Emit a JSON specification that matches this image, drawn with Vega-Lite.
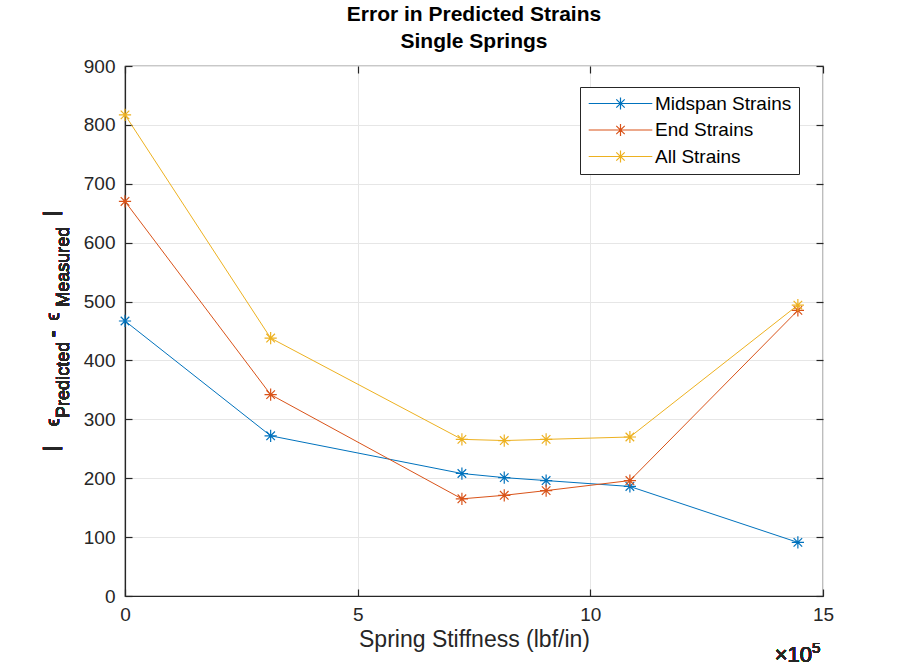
{
  "$schema": "https://vega.github.io/schema/vega-lite/v6.json",
  "width": 698,
  "height": 530,
  "autosize": {"type": "none"},
  "padding": {"left": 125, "top": 66, "right": 76, "bottom": 71},
  "background": "white",
  "title": {
    "text": ["Error in Predicted Strains", "Single Springs"],
    "font": "Liberation Sans",
    "fontSize": 21,
    "fontWeight": "bold",
    "color": "#000000",
    "anchor": "middle",
    "lineHeight": 27,
    "offset": 5
  },
  "config": {
    "view": {"stroke": "#262626", "strokeWidth": 1.2},
    "axis": {
      "labelFont": "Liberation Sans",
      "labelFontSize": 19,
      "labelColor": "#262626",
      "labelFlush": false,
      "titleFont": "Liberation Sans",
      "titleFontSize": 23,
      "titleFontWeight": "normal",
      "titleColor": "#262626",
      "domainColor": "#262626",
      "domainWidth": 1.2,
      "tickColor": "#262626",
      "tickWidth": 1.2,
      "tickSize": -7,
      "gridColor": "#e6e6e6",
      "gridWidth": 1
    },
    "text": {"font": "Liberation Sans", "fontWeight": "normal", "color": "#262626"}
  },
  "data": {
    "values": [
      {"stiffness": 0, "error": 467, "series": "Midspan Strains"},
      {"stiffness": 3.13, "error": 272, "series": "Midspan Strains"},
      {"stiffness": 7.24, "error": 208, "series": "Midspan Strains"},
      {"stiffness": 8.15, "error": 201, "series": "Midspan Strains"},
      {"stiffness": 9.05, "error": 196, "series": "Midspan Strains"},
      {"stiffness": 10.85, "error": 186, "series": "Midspan Strains"},
      {"stiffness": 14.46, "error": 91, "series": "Midspan Strains"},
      {"stiffness": 0, "error": 670, "series": "End Strains"},
      {"stiffness": 3.13, "error": 342, "series": "End Strains"},
      {"stiffness": 7.24, "error": 165, "series": "End Strains"},
      {"stiffness": 8.15, "error": 171, "series": "End Strains"},
      {"stiffness": 9.05, "error": 179, "series": "End Strains"},
      {"stiffness": 10.85, "error": 196, "series": "End Strains"},
      {"stiffness": 14.46, "error": 485, "series": "End Strains"},
      {"stiffness": 0, "error": 817, "series": "All Strains"},
      {"stiffness": 3.13, "error": 438, "series": "All Strains"},
      {"stiffness": 7.24, "error": 266, "series": "All Strains"},
      {"stiffness": 8.15, "error": 264, "series": "All Strains"},
      {"stiffness": 9.05, "error": 266, "series": "All Strains"},
      {"stiffness": 10.85, "error": 270, "series": "All Strains"},
      {"stiffness": 14.46, "error": 494, "series": "All Strains"}
    ]
  },
  "layer": [
    {
      "mark": {
        "type": "line",
        "strokeWidth": 1,
        "point": {
          "shape": "M-1,0L1,0M0,-1L0,1M-0.7,-0.7L0.7,0.7M-0.7,0.7L0.7,-0.7",
          "filled": false,
          "size": 150,
          "strokeWidth": 1.2
        }
      },
      "encoding": {
        "x": {
          "field": "stiffness",
          "type": "quantitative",
          "scale": {"domain": [0, 15], "nice": false},
          "axis": {
            "values": [0, 5, 10, 15],
            "grid": true,
            "labelPadding": 16,
            "title": "Spring Stiffness (lbf/in)",
            "titlePadding": 4
          }
        },
        "y": {
          "field": "error",
          "type": "quantitative",
          "scale": {"domain": [0, 900], "nice": false},
          "axis": {
            "values": [0, 100, 200, 300, 400, 500, 600, 700, 800, 900],
            "grid": true,
            "labelPadding": 17,
            "title": null
          }
        },
        "color": {
          "field": "series",
          "type": "nominal",
          "sort": ["Midspan Strains", "End Strains", "All Strains"],
          "scale": {
            "domain": ["Midspan Strains", "End Strains", "All Strains"],
            "range": ["#0072BD", "#D95319", "#EDB120"]
          },
          "legend": {
            "title": null,
            "orient": "none",
            "legendX": 455,
            "legendY": 21,
            "symbolType": "M-5.3,0L5.3,0M-1,0L1,0M0,-1L0,1M-0.7,-0.7L0.7,0.7M-0.7,0.7L0.7,-0.7",
            "symbolSize": 144,
            "symbolStrokeWidth": 1.2,
            "symbolOffset": 24,
            "labelOffset": 25,
            "labelFont": "Liberation Sans",
            "labelFontSize": 19,
            "labelColor": "#000000",
            "fillColor": "white",
            "strokeColor": "#262626",
            "padding": 7,
            "rowPadding": 6.5
          }
        }
      }
    },
    {
      "mark": {"type": "text", "text": "|", "angle": 270, "fontSize": 21, "align": "center", "baseline": "middle", "dy": -73},
      "encoding": {"x": {"datum": 0, "axis": null}, "y": {"datum": 251, "axis": null}}
    },
    {
      "mark": {"type": "text", "text": "ϵ", "angle": 270, "fontSize": 18, "align": "center", "baseline": "middle", "dy": -71},
      "encoding": {"x": {"datum": 0, "axis": null}, "y": {"datum": 295, "axis": null}}
    },
    {
      "mark": {"type": "text", "text": "Predicted", "angle": 270, "fontSize": 18, "align": "center", "baseline": "middle", "dy": -61},
      "encoding": {"x": {"datum": 0, "axis": null}, "y": {"datum": 367, "axis": null}}
    },
    {
      "mark": {"type": "text", "text": "-", "angle": 270, "fontSize": 20, "fontWeight": "bold", "align": "center", "baseline": "middle", "dy": -72},
      "encoding": {"x": {"datum": 0, "axis": null}, "y": {"datum": 445, "axis": null}}
    },
    {
      "mark": {"type": "text", "text": "ϵ", "angle": 270, "fontSize": 18, "align": "center", "baseline": "middle", "dy": -71},
      "encoding": {"x": {"datum": 0, "axis": null}, "y": {"datum": 474, "axis": null}}
    },
    {
      "mark": {"type": "text", "text": "Measured", "angle": 270, "fontSize": 18, "align": "center", "baseline": "middle", "dy": -61},
      "encoding": {"x": {"datum": 0, "axis": null}, "y": {"datum": 559, "axis": null}}
    },
    {
      "mark": {"type": "text", "text": "|", "angle": 270, "fontSize": 21, "align": "center", "baseline": "middle", "dy": -73},
      "encoding": {"x": {"datum": 0, "axis": null}, "y": {"datum": 650, "axis": null}}
    },
    {
      "mark": {"type": "text", "text": "5", "fontSize": 15, "align": "left", "baseline": "alphabetic", "dx": -11, "dy": 57},
      "encoding": {"x": {"datum": 15, "axis": null}, "y": {"datum": 0, "axis": null}}
    },
    {
      "mark": {"type": "text", "text": "×10", "fontSize": 22, "align": "right", "baseline": "alphabetic", "dx": -11, "dy": 66},
      "encoding": {
        "x": {
          "datum": 15,
          "axis": {"orient": "top", "values": [0, 5, 10, 15], "labels": false, "domain": false, "grid": false, "title": null}
        },
        "y": {
          "datum": 0,
          "axis": {"orient": "right", "values": [0, 100, 200, 300, 400, 500, 600, 700, 800, 900], "labels": false, "domain": false, "grid": false, "title": null}
        }
      }
    }
  ],
  "resolve": {"axis": {"x": "independent", "y": "independent"}}
}
